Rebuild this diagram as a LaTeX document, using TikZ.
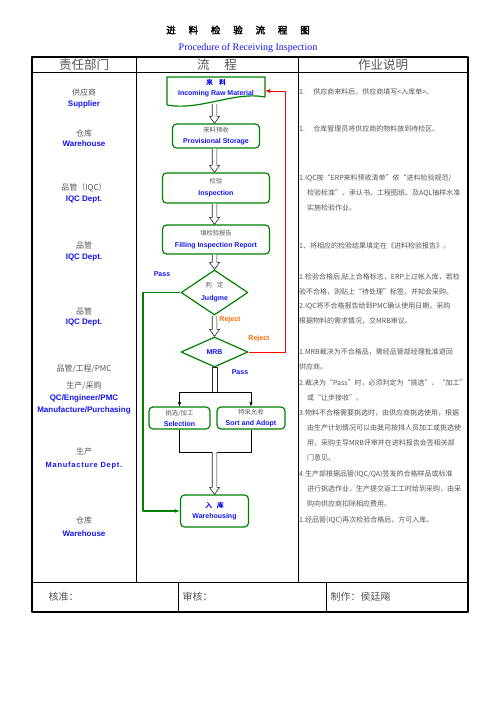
\documentclass[tikz,border=0pt]{standalone}
\usepackage{fontspec}
\setmainfont{Liberation Serif}
\setsansfont{Liberation Sans}
\newfontfamily\cjk{Noto Sans CJK SC}
\newfontfamily\cjkbold[AutoFakeBold=2.5]{Noto Sans CJK SC}
\usetikzlibrary{shapes.geometric,arrows.meta}
\definecolor{boxgreen}{RGB}{0,128,0}
\definecolor{engblue}{RGB}{20,20,240}
\definecolor{rejorange}{RGB}{255,102,0}
\definecolor{txtgray}{RGB}{85,85,85}
\newcommand\zh[1]{{\cjk\fontsize{6.3}{7}\selectfont\color{txtgray}#1}}
\newcommand\zhb[1]{{\cjkbold\bfseries\fontsize{6.5}{7}\selectfont\color{engblue}#1}}
\newcommand\en[1]{{\sffamily\bfseries\fontsize{7}{8}\selectfont\color{engblue}#1}}
% hollow block arrow straight down from #1 to #2
\newcommand\hollowdown[2]{\draw[arrowline] ([xshift=-2.3pt]#1) -- ([xshift=-2.3pt,yshift=7pt]#2)
  -- ([xshift=-5pt,yshift=7pt]#2) -- (#2) -- ([xshift=5pt,yshift=7pt]#2) -- ([xshift=2.3pt,yshift=7pt]#2)
  -- ([xshift=2.3pt]#1);}
\tikzset{
  dept/.style={font=\cjk\fontsize{8}{9}\selectfont,text=txtgray,inner sep=0pt},
  depten/.style={font=\sffamily\bfseries\fontsize{8}{9}\selectfont,text=engblue,inner sep=0pt},
  note/.style={font=\cjk\fontsize{7}{8}\selectfont,text=txtgray,inner sep=0pt,anchor=west},
  flowbox/.style={draw=boxgreen,line width=1.2pt,rounded corners=4pt,align=center,inner sep=0pt},
  decision/.style={draw=boxgreen,line width=1.2pt,shape=diamond,align=center,inner sep=0pt},
  arrowline/.style={draw=black!85,fill=white,line width=0.6pt},
  flag/.style={font=\sffamily\bfseries\fontsize{7}{8}\selectfont,inner sep=0pt},
}
\begin{document}
\begin{tikzpicture}[x=1pt,y=-1pt,line join=round]
\useasboundingbox (0,0) rectangle (496,702);
% title
\node[font=\cjkbold\bfseries\fontsize{9.5}{10}\selectfont] (title) at (238,30) {进\hspace{1.35em}料\hspace{1.35em}检\hspace{1.35em}验\hspace{1.35em}流\hspace{1.35em}程\hspace{1.35em}图};
\node[font=\rmfamily\fontsize{10}{11}\selectfont,text=engblue,inner sep=0pt] (subtitle) at (248,48) {Procedure of Receiving Inspection};
% table
\draw[line width=0.8pt] (32,72) -- (468,72) (136,57) -- (136,582) (298,57) -- (298,582) (32,582) -- (468,582)
  (178,582) -- (178,612) (326,582) -- (326,612);
\draw[line width=1.4pt] (32,57) rectangle (468,612);
\node[font=\cjk\fontsize{12.5}{13}\selectfont,text=txtgray] (h1) at (84,65) {责任部门};
\node[font=\cjk\fontsize{12.5}{13}\selectfont,text=txtgray] (h2) at (217,65) {流\hspace{1.2em}程};
\node[font=\cjk\fontsize{12.5}{13}\selectfont,text=txtgray] (h3) at (383,65) {作业说明};
\node[font=\cjk\fontsize{10}{11}\selectfont,text=txtgray,anchor=west] (f1) at (45,597) {核准：};
\node[font=\cjk\fontsize{10}{11}\selectfont,text=txtgray,anchor=west] (f2) at (179,597) {审核：};
\node[font=\cjk\fontsize{10}{11}\selectfont,text=txtgray,anchor=west] (f3) at (327,597) {制作：侯廷飚};
% departments
\node[dept] (d1) at (84,92) {供应商};
\node[depten] (d1e) at (84,104) {Supplier};
\node[dept] (d2) at (84,133) {仓库};
\node[depten] (d2e) at (84,144) {Warehouse};
\node[dept] (d3) at (84,188) {品管（IQC）};
\node[depten] (d3e) at (84,200) {IQC Dept.};
\node[dept] (d4) at (84,245) {品管};
\node[depten] (d4e) at (84,258) {IQC Dept.};
\node[dept] (d5) at (84,311) {品管};
\node[depten] (d5e) at (84,323) {IQC Dept.};
\node[dept] (d6) at (84,369) {品管/工程/PMC};
\node[dept] (d6b) at (84,386) {生产/采购};
\node[depten] (d6e) at (84,398) {QC/Engineer/PMC};
\node[depten] (d6f) at (84,410) {Manufacture/Purchasing};
\node[dept] (d7) at (84,451) {生产};
\node[depten,font=\sffamily\bfseries\fontsize{7.5}{9}\selectfont\addfontfeature{LetterSpace=10}] (d7e) at (84,466) {Manufacture Dept.};
\node[dept] (d8) at (84,520) {仓库};
\node[depten] (d8e) at (84,534) {Warehouse};
% flow
\node[minimum width=98pt,minimum height=28pt,align=center,inner sep=0pt] (raw) at (216,88)
  {\zhb{来\hspace{1em}料}\\[-1pt]\en{Incoming Raw Material}};
\draw[boxgreen,line width=1.2pt] (167,77) -- (265,77) -- (265,97) .. controls (235,91) and (200,111) .. (167,105) -- cycle;
\node[flowbox,minimum width=87pt,minimum height=24pt] (store) at (216,136) {\zh{来料预收}\\[-1pt]\en{Provisional Storage}};
\node[flowbox,minimum width=107pt,minimum height=30pt] (insp) at (216,188) {\zh{检验}\\\en{Inspection}};
\node[flowbox,minimum width=107pt,minimum height=29pt] (report) at (216,239.5) {\zh{填检验报告}\\\en{Filling Inspection Report}};
\node[decision,aspect=1.5,minimum width=67pt,minimum height=45pt] (judge) at (214.5,292.5) {\zh{判\hspace{0.8em}定}\\[1pt]\en{Judgme}};
\node[decision,aspect=2.2,minimum width=67pt,minimum height=30pt] (mrb) at (214.5,352) {\en{MRB}};
\node[flowbox,minimum width=61pt,minimum height=22pt] (select) at (179.5,418) {\zh{挑选/加工}\\[-1pt]\en{Selection}};
\node[flowbox,minimum width=68pt,minimum height=22pt] (adopt) at (251,418) {\zh{特采允收}\\[-1pt]\en{Sort and Adopt}};
\node[flowbox,minimum width=68pt,minimum height=32pt] (store2) at (214.5,511)
  {\zhb{入\hspace{0.8em}库}\\[-1pt]\en{Warehousing}};
\coordinate (rawout) at (214.5,104);
\coordinate (split) at (214.5,392);
\coordinate (join) at (214.5,452);
\hollowdown{rawout}{store.north -| rawout}
\hollowdown{store.south -| rawout}{insp.north -| rawout}
\hollowdown{insp.south -| rawout}{report.north -| rawout}
\hollowdown{report.south -| rawout}{judge.north}
\hollowdown{judge.south}{mrb.north}
\draw[arrowline] ([xshift=-2.3pt]mrb.south) rectangle ([xshift=2.3pt]split);
\draw[line width=0.6pt,-{Latex[length=4pt,width=3.5pt]}] (select.north |- split) -- (select.north);
\draw[line width=0.6pt,-{Latex[length=4pt,width=3.5pt]}] (select.north |- split) -- (adopt.north |- split) -- (adopt.north);
\draw[line width=0.6pt] (select.south) -- (select.south |- join) -- (adopt.south |- join) -- (adopt.south);
\hollowdown{join}{store2.north}
\draw[boxgreen,line width=1.2pt,-{Latex[length=5pt,width=4pt]}] (judge.west) -- (143,292.5) -- (143,511) -- (store2.west);
\draw[red,line width=1pt,-{Latex[length=5pt,width=4pt]}] (mrb.east) -- (285,352) -- (285,91) -- (265,91);
\node[flag,text=engblue] (pass1) at (162,274) {Pass};
\node[flag,text=rejorange] (rej1) at (230,320) {Reject};
\node[flag,text=rejorange] (rej2) at (259,339) {Reject};
\node[flag,text=engblue] (pass2) at (240,372) {Pass};
% notes
\node[note] (n1) at (299,92) {1.\hspace{1.2em}供应商来料后，供应商填写<入库单>。};
\node[note] (n2) at (299,129) {1.\hspace{1.2em}仓库管理员将供应商的物料放到待检区。};
\node[note] (n3) at (299,178) {1.IQC按“ERP来料预收清单”依“进料检验规范/};
\node[note] (n3b) at (307,193) {检验标准”、承认书、工程图纸、及AQL抽样水准};
\node[note] (n3c) at (307,208) {实施检验作业。};
\node[note] (n4) at (299,246) {1、将相应的检验结果填定在《进料检验报告》。};
\node[note] (n5) at (299,277) {1.检验合格后,贴上合格标志，ERP上过帐入库，若检};
\node[note] (n5b) at (299,292) {验不合格，则贴上“待处理”标签，并知会采购。};
\node[note] (n5c) at (299,306) {2.IQC将不合格报告给到PMC确认使用日期，采购};
\node[note] (n5d) at (299,321) {根据物料的需求情况，交MRB审议。};
\node[note] (n6) at (299,352) {1.MRB裁决为不合格品，需经品管部经理批准退回};
\node[note] (n6b) at (299,367) {供应商。};
\node[note] (n6c) at (299,383) {2.裁决为“Pass”时，必须判定为“挑选”、“加工”};
\node[note] (n6d) at (307,398) {或“让步接收”。};
\node[note] (n6e) at (299,413) {3.物料不合格需要挑选时，由供应商挑选使用，根据};
\node[note] (n6f) at (307,428) {由生产计划情况可以由我司按排人员加工或挑选使};
\node[note] (n6g) at (307,443) {用，采购主导MRB评审并在进料报告会签相关部};
\node[note] (n6h) at (307,458) {门意见。};
\node[note] (n6i) at (299,474) {4.生产部根据品管(IQC/QA)签发的合格样品或标准};
\node[note] (n6j) at (307,489) {进行挑选作业，生产提交返工工时给到采购，由采};
\node[note] (n6k) at (307,504) {购向供应商扣除相应费用。};
\node[note] (n7) at (299,520) {1.经品管(IQC)再次检验合格后，方可入库。};
\end{tikzpicture}
\end{document}
